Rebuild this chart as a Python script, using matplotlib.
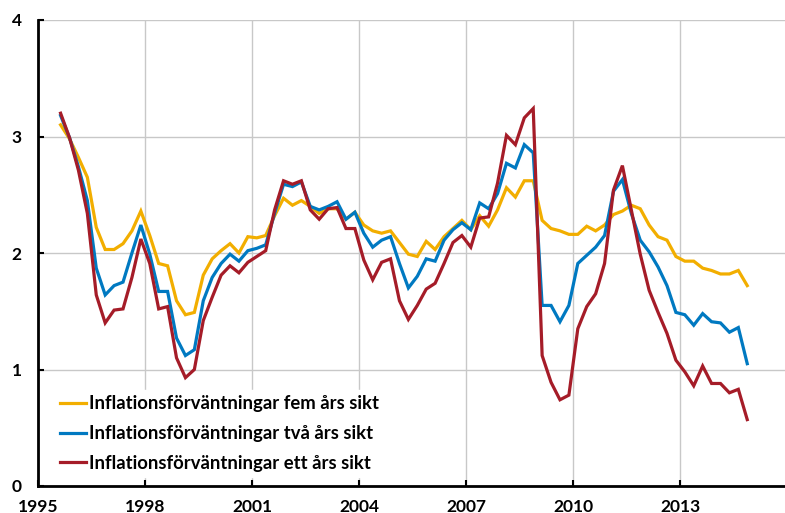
import matplotlib
matplotlib.use("Agg")
import matplotlib.pyplot as plt
import pandas as pd

# quarterly survey data, 1995 Q3 - 2014 Q4
start_quarter = "1995Q3"
fem_ar = [3.10, 2.98, 2.82, 2.65, 2.22, 2.03, 2.03, 2.08, 2.19, 2.36,
          2.15, 1.91, 1.89, 1.59, 1.47, 1.49, 1.81, 1.95, 2.02, 2.08,
          2.00, 2.14, 2.13, 2.15, 2.32, 2.47, 2.41, 2.45, 2.40, 2.34,
          2.38, 2.38, 2.29, 2.35, 2.24, 2.19, 2.17, 2.19, 2.09, 1.99,
          1.97, 2.10, 2.03, 2.14, 2.21, 2.28, 2.20, 2.32, 2.23, 2.37,
          2.56, 2.48, 2.62, 2.62, 2.28, 2.21, 2.19, 2.16, 2.16, 2.23,
          2.19, 2.24, 2.33, 2.36, 2.41, 2.38, 2.24, 2.14, 2.11, 1.97,
          1.93, 1.93, 1.87, 1.85, 1.82, 1.82, 1.85, 1.72]
tva_ar = [3.18, 2.99, 2.74, 2.45, 1.87, 1.64, 1.72, 1.75, 2.00, 2.24,
          1.99, 1.67, 1.67, 1.27, 1.12, 1.17, 1.59, 1.79, 1.91, 1.99,
          1.93, 2.02, 2.04, 2.07, 2.34, 2.59, 2.57, 2.61, 2.40, 2.37,
          2.40, 2.44, 2.29, 2.35, 2.17, 2.05, 2.11, 2.14, 1.91, 1.70,
          1.80, 1.95, 1.93, 2.11, 2.20, 2.26, 2.20, 2.43, 2.38, 2.51,
          2.77, 2.73, 2.93, 2.86, 1.55, 1.55, 1.41, 1.55, 1.91, 1.98,
          2.05, 2.15, 2.53, 2.63, 2.34, 2.11, 2.01, 1.88, 1.72, 1.49,
          1.47, 1.38, 1.48, 1.41, 1.40, 1.32, 1.36, 1.05]
ett_ar = [3.20, 2.99, 2.71, 2.34, 1.64, 1.40, 1.51, 1.52, 1.79, 2.12,
          1.91, 1.52, 1.54, 1.10, 0.93, 1.00, 1.42, 1.62, 1.81, 1.89,
          1.83, 1.92, 1.97, 2.02, 2.37, 2.62, 2.59, 2.62, 2.37, 2.29,
          2.38, 2.39, 2.21, 2.21, 1.94, 1.77, 1.92, 1.95, 1.59, 1.43,
          1.55, 1.69, 1.74, 1.91, 2.09, 2.15, 2.05, 2.30, 2.31, 2.60,
          3.01, 2.93, 3.16, 3.24, 1.12, 0.89, 0.74, 0.78, 1.35, 1.54,
          1.65, 1.91, 2.54, 2.75, 2.37, 1.99, 1.68, 1.49, 1.31, 1.08,
          0.98, 0.86, 1.03, 0.88, 0.88, 0.80, 0.83, 0.57]

labels = ["Inflationsförväntningar fem års sikt",
          "Inflationsförväntningar två års sikt",
          "Inflationsförväntningar ett års sikt"]
colors = ["#f2ae00", "#0079c1", "#a51c28"]
xticks = [1995, 1998, 2001, 2004, 2007, 2010, 2013]
yticks = [0, 1, 2, 3, 4]

# put each quarter in the middle of its span on a decimal-year axis
quarters = pd.period_range(start_quarter, periods=len(fem_ar), freq="Q")
x = [q.year + (q.quarter - 1) / 4 + 0.125 for q in quarters]

plt.rcParams["font.family"] = ["Lato", "DejaVu Sans"]
plt.rcParams["font.weight"] = "bold"

fig = plt.figure(figsize=(7.85, 5.13), dpi=100)
ax = fig.add_axes([38.3 / 785, 27 / 513, 746.7 / 785, 466 / 513])

for series, lab, col in zip([fem_ar, tva_ar, ett_ar], labels, colors):
    ax.plot(x, series, color=col, linewidth=2.3, label=lab,
            solid_joinstyle="miter")

ax.set_xlim(1995, 1995 + 746.7 / 35.67)
ax.set_ylim(0, 4)
ax.set_xticks(xticks)
ax.set_yticks(yticks)
ax.set_xticklabels([str(t) for t in xticks], fontsize=12.5, fontweight="bold")
ax.set_yticklabels([str(t) for t in yticks], fontsize=12.5, fontweight="bold")
ax.tick_params(axis="x", direction="in", length=4, width=1.5, pad=9)
ax.tick_params(axis="y", direction="in", length=4, width=1.5, pad=12)

ax.grid(True, color="#c8c8c8", linewidth=1)
ax.set_axisbelow(True)
for side in ["top", "right"]:
    ax.spines[side].set_visible(False)
for side in ["left", "bottom"]:
    ax.spines[side].set_linewidth(2)
    ax.spines[side].set_color("black")

leg = ax.legend(loc="upper left", bbox_to_anchor=(0.021, 0.207),
                frameon=True, fancybox=False, framealpha=1,
                edgecolor="white", prop={"size": 13.3, "weight": "bold"},
                handlelength=1.45, handletextpad=0.12, labelspacing=0.7,
                borderpad=0.3, borderaxespad=0.0)

fig.savefig("out.png", dpi=100)
